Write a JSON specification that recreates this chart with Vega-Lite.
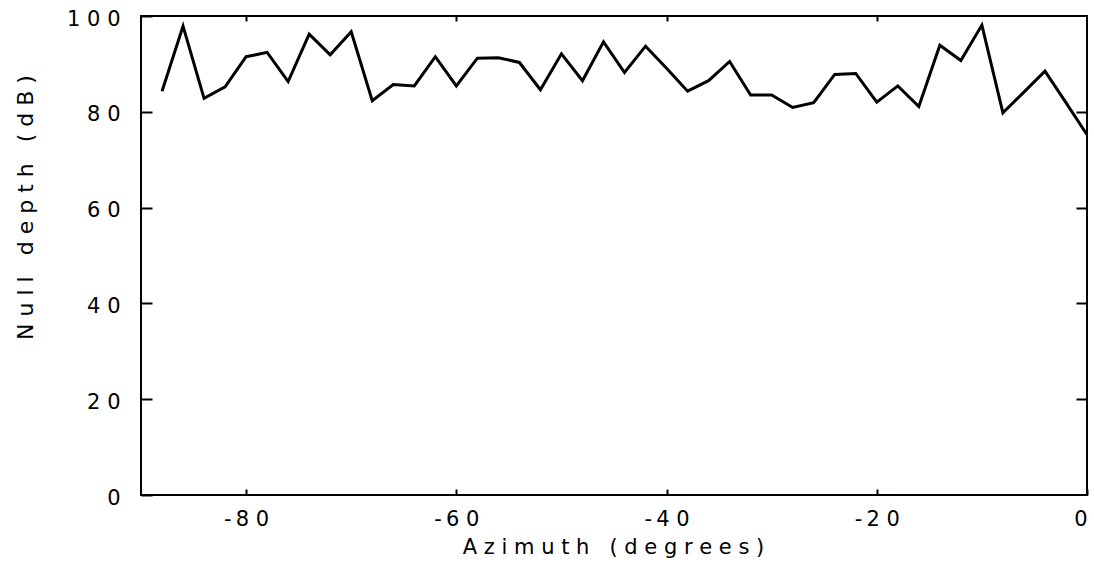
{
  "$schema": "https://vega.github.io/schema/vega-lite/v6.json",
  "width": 946,
  "height": 479,
  "autosize": {"type": "none"},
  "padding": {"left": 141, "top": 16, "right": 7, "bottom": 69},
  "background": "white",
  "config": {
    "view": {"stroke": "black", "strokeWidth": 2},
    "axis": {
      "grid": false,
      "domain": false,
      "tickColor": "black",
      "tickWidth": 2,
      "labelColor": "black",
      "labelFont": "DejaVu Sans",
      "labelFontSize": 21,
      "titleColor": "black",
      "titleFont": "DejaVu Sans",
      "titleFontWeight": "normal",
      "zindex": 1
    }
  },
  "data": {
    "values": [
      {"azimuth": -88, "null_depth": 84.3},
      {"azimuth": -86, "null_depth": 97.9},
      {"azimuth": -84, "null_depth": 82.8},
      {"azimuth": -82, "null_depth": 85.2},
      {"azimuth": -80, "null_depth": 91.5},
      {"azimuth": -78, "null_depth": 92.4},
      {"azimuth": -76, "null_depth": 86.3},
      {"azimuth": -74, "null_depth": 96.2},
      {"azimuth": -72, "null_depth": 91.9},
      {"azimuth": -70, "null_depth": 96.7},
      {"azimuth": -68, "null_depth": 82.3},
      {"azimuth": -66, "null_depth": 85.7},
      {"azimuth": -64, "null_depth": 85.4},
      {"azimuth": -62, "null_depth": 91.5},
      {"azimuth": -60, "null_depth": 85.4},
      {"azimuth": -58, "null_depth": 91.2},
      {"azimuth": -56, "null_depth": 91.3},
      {"azimuth": -54, "null_depth": 90.3},
      {"azimuth": -52, "null_depth": 84.6},
      {"azimuth": -50, "null_depth": 92.1},
      {"azimuth": -48, "null_depth": 86.5},
      {"azimuth": -46, "null_depth": 94.6},
      {"azimuth": -44, "null_depth": 88.2},
      {"azimuth": -42, "null_depth": 93.7},
      {"azimuth": -40, "null_depth": 89.1},
      {"azimuth": -38, "null_depth": 84.3},
      {"azimuth": -36, "null_depth": 86.5},
      {"azimuth": -34, "null_depth": 90.5},
      {"azimuth": -32, "null_depth": 83.5},
      {"azimuth": -30, "null_depth": 83.5},
      {"azimuth": -28, "null_depth": 80.9},
      {"azimuth": -26, "null_depth": 81.9},
      {"azimuth": -24, "null_depth": 87.8},
      {"azimuth": -22, "null_depth": 88.0},
      {"azimuth": -20, "null_depth": 82.0},
      {"azimuth": -18, "null_depth": 85.4},
      {"azimuth": -16, "null_depth": 81.1},
      {"azimuth": -14, "null_depth": 93.9},
      {"azimuth": -12, "null_depth": 90.7},
      {"azimuth": -10, "null_depth": 98.1},
      {"azimuth": -8, "null_depth": 79.8},
      {"azimuth": -6, "null_depth": 84.1},
      {"azimuth": -4, "null_depth": 88.5},
      {"azimuth": -2, "null_depth": 81.9},
      {"azimuth": 0, "null_depth": 75.2}
    ]
  },
  "layer": [
    {
      "mark": {"type": "line", "color": "black", "strokeWidth": 3, "strokeJoin": "miter"},
      "encoding": {
        "x": {
          "field": "azimuth",
          "type": "quantitative",
          "scale": {"domain": [-90, 0], "nice": false, "zero": false},
          "axis": {
            "orient": "bottom",
            "offset": -6,
            "values": [-80, -60, -40, -20, 0],
            "tickSize": 6,
            "labelPadding": 13,
            "labelFlush": true,
            "labelExpr": "replace(join(split(toString(datum.value), ''), ' '), '- ', '-\u2009')",
            "title": "A z i m u t h\u00a0\u00a0 ( d e g r e e s )",
            "titleFontSize": 21,
            "titleX": 472,
            "titleY": 64,
            "titleAlign": "center",
            "titleBaseline": "alphabetic"
          }
        },
        "y": {
          "field": "null_depth",
          "type": "quantitative",
          "scale": {"domain": [0, 100], "nice": false},
          "axis": {
            "orient": "left",
            "offset": -11,
            "values": [0, 20, 40, 60, 80, 100],
            "tickSize": 11,
            "labelPadding": 21,
            "labelOffset": 3,
            "labelExpr": "join(split(toString(datum.value), ''), ' ')",
            "title": "N u l l\u00a0\u00a0 d e p t h\u00a0\u00a0 ( d B )",
            "titleFontSize": 22,
            "titleAngle": -90,
            "titleX": -120,
            "titleY": 191,
            "titleAlign": "center",
            "titleBaseline": "alphabetic"
          }
        }
      }
    },
    {
      "mark": {"type": "line", "opacity": 0},
      "encoding": {
        "x": {
          "field": "azimuth",
          "type": "quantitative",
          "axis": {
            "orient": "top",
            "offset": -5,
            "values": [-80, -60, -40, -20],
            "tickSize": 5,
            "labels": false,
            "title": null
          }
        },
        "y": {
          "field": "null_depth",
          "type": "quantitative",
          "axis": {
            "orient": "right",
            "offset": -11,
            "values": [20, 40, 60, 80],
            "tickSize": 11,
            "labels": false,
            "title": null
          }
        }
      }
    }
  ],
  "resolve": {"axis": {"x": "independent", "y": "independent"}}
}
